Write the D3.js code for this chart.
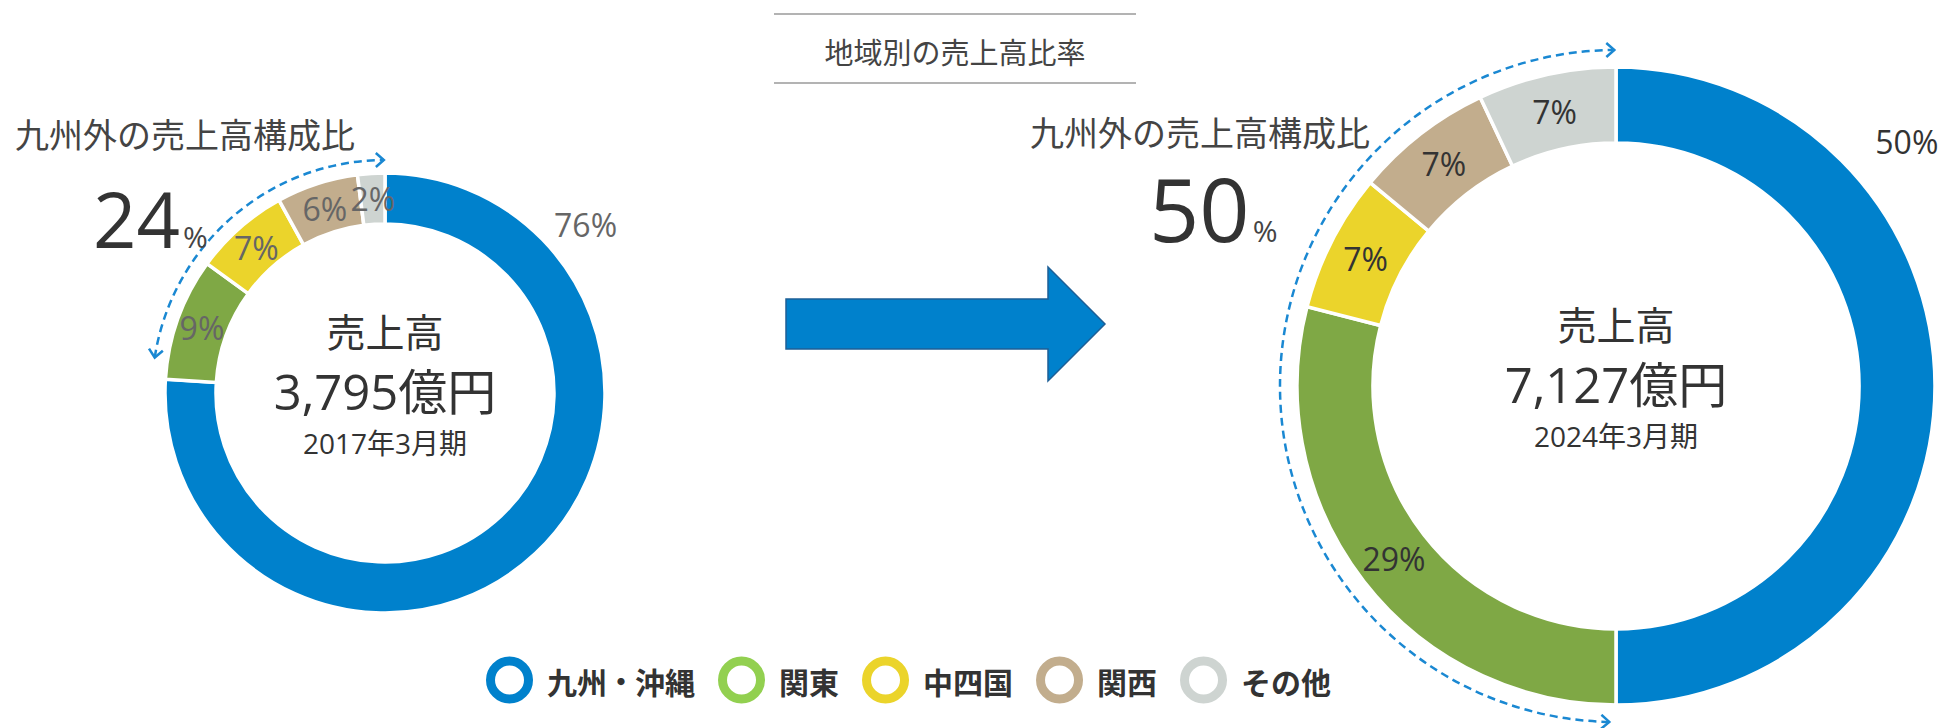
<!DOCTYPE html>
<html>
<head>
<meta charset="utf-8">
<script src="https://cdn.jsdelivr.net/npm/d3@7"></script>
<style>
  body { margin: 0; background: #fff; }
  text { font-family: "Open Sans", "Noto Sans CJK JP", sans-serif; }
</style>
</head>
<body>
<div id="chart"></div>
<script>
// data
const regions = ["九州・沖縄", "関東", "中四国", "関西", "その他"];
const share2017 = [76, 9, 7, 6, 2];
const share2024 = [50, 29, 7, 7, 7];
const periods = ["2017年3月期", "2024年3月期"];
const salesLabels = ["3,795億円", "7,127億円"];
const outsideShare = [24, 50];

const ringColors = ["#0081cc", "#7fa845", "#ebd42b", "#c2ad8d", "#ced4d1"];
const legendColors = ["#0081cc", "#92d050", "#ebd42b", "#c2ad8d", "#ced4d1"];

var width = 1953,
  height = 728;

var svg = d3
  .select("#chart")
  .append("svg")
  .attr("width", width)
  .attr("height", height);

svg
  .append("defs")
  .append("marker")
  .attr("id", "arrowhead")
  .attr("markerUnits", "userSpaceOnUse")
  .attr("markerWidth", 20)
  .attr("markerHeight", 20)
  .attr("refX", 10)
  .attr("refY", 8)
  .attr("orient", "auto-start-reverse")
  .append("path")
  .attr("d", "M2,1 L10,8 L2,15")
  .attr("fill", "none")
  .attr("stroke", "#1a88d2")
  .attr("stroke-width", 2.5);

// title with rules
svg.append("line").attr("x1", 774).attr("x2", 1136).attr("y1", 14).attr("y2", 14)
  .attr("stroke", "#9a9a9a").attr("stroke-width", 1.5);
svg.append("line").attr("x1", 774).attr("x2", 1136).attr("y1", 83).attr("y2", 83)
  .attr("stroke", "#9a9a9a").attr("stroke-width", 1.5);
svg.append("text")
  .attr("x", 955)
  .attr("y", 52)
  .attr("text-anchor", "middle")
  .attr("dominant-baseline", "central")
  .attr("fill", "#444")
  .style("font-size", "29px")
  .text("地域別の売上高比率");

// big arrow between the two rings
var ax = 786, ay = 324;
var arrowPts = [
  [ax, ay - 25], [1048, ay - 25], [1048, ay - 57], [1105, ay],
  [1048, ay + 57], [1048, ay + 25], [ax, ay + 25]
];
svg.append("path")
  .attr("d", d3.line()(arrowPts) + "Z")
  .attr("fill", "#0081cc")
  .attr("stroke", "#1d5f96")
  .attr("stroke-width", 1.5);

var charts = [
  {
    cx: 385, cy: 393, r: 220, inner: 169, values: share2017,
    sales: salesLabels[0], period: periods[0], outside: outsideShare[0],
    labelColor: "#666", dashR: 233, dashPad: 0.09,
    headX: 15, headY: 135, bigX: 97, bigY: 248, bigSize: 76
  },
  {
    cx: 1616, cy: 386, r: 319, inner: 243, values: share2024,
    sales: salesLabels[1], period: periods[1], outside: outsideShare[1],
    labelColor: "#333", dashR: 336, dashPad: 0.02,
    headX: 1030, headY: 133, bigX: 1153, bigY: 242, bigSize: 88
  }
];

var pie = d3.pie().sort(null).value((d) => d);

charts.forEach(function (c) {
  var g = svg.append("g").attr("transform", "translate(" + c.cx + "," + c.cy + ")");
  var arcs = pie(c.values);
  var arc = d3.arc().innerRadius(c.inner).outerRadius(c.r);

  g.selectAll(".slice")
    .data(arcs)
    .enter()
    .append("path")
    .attr("class", "slice")
    .attr("d", arc)
    .attr("fill", (d, i) => ringColors[i])
    .attr("stroke", "#fff")
    .attr("stroke-width", 3.5);

  // percent labels: in the ring, the big one outside at the upper right
  g.selectAll(".pct")
    .data(arcs)
    .enter()
    .append("text")
    .attr("class", "pct")
    .attr("transform", (d, i) => {
      var p;
      if (i == 0) {
        var a = (50 * Math.PI) / 180, rr = c.r * 1.19;
        p = [rr * Math.sin(a), -rr * Math.cos(a)];
      } else {
        p = arc.centroid(d);
      }
      return "translate(" + p[0] + "," + p[1] + ")";
    })
    .attr("text-anchor", "middle")
    .attr("dominant-baseline", "central")
    .attr("fill", c.labelColor)
    .style("font-size", "32px")
    .text((d) => d.data + "%");

  // dashed arc over the non-Kyushu part
  var p = d3.path();
  p.arc(0, 0, c.dashR, arcs[0].endAngle + c.dashPad - Math.PI / 2, 2 * Math.PI - 0.005 - Math.PI / 2);
  g.append("path")
    .attr("d", p.toString())
    .attr("fill", "none")
    .attr("stroke", "#1a88d2")
    .attr("stroke-width", 2.5)
    .attr("stroke-dasharray", "8,5")
    .attr("marker-start", "url(#arrowhead)")
    .attr("marker-end", "url(#arrowhead)");

  // centre texts
  g.append("text").attr("y", -62).attr("text-anchor", "middle")
    .attr("dominant-baseline", "central").attr("fill", "#333")
    .style("font-size", "39px").text("売上高");
  g.append("text").attr("y", -2).attr("text-anchor", "middle")
    .attr("dominant-baseline", "central").attr("fill", "#333")
    .style("font-size", "49px").text(c.sales);
  g.append("text").attr("y", 50).attr("text-anchor", "middle")
    .attr("dominant-baseline", "central").attr("fill", "#333")
    .style("font-size", "28px").text(c.period);

  // outside-Kyushu share
  svg.append("text")
    .attr("x", c.headX)
    .attr("y", c.headY)
    .attr("dominant-baseline", "central")
    .attr("fill", "#444")
    .style("font-size", "34px")
    .text("九州外の売上高構成比");

  var big = svg.append("text")
    .attr("x", c.bigX - 4)
    .attr("y", c.bigY)
    .attr("fill", "#333");
  big.append("tspan").style("font-size", c.bigSize + "px").text(c.outside);
  big.append("tspan").attr("dx", 3).style("font-size", "30px").attr("fill", "#444").text("%");
});

// legend
var lx = 486, ly = 680;
regions.forEach(function (name, i) {
  svg.append("circle")
    .attr("cx", lx + 23.5)
    .attr("cy", ly)
    .attr("r", 19)
    .attr("fill", "none")
    .attr("stroke", legendColors[i])
    .attr("stroke-width", 9);
  var t = svg.append("text")
    .attr("x", lx + 61)
    .attr("y", ly + 2)
    .attr("dominant-baseline", "central")
    .attr("fill", "#333")
    .style("font-size", "30px")
    .style("font-weight", "bold");
  // the middle dot is narrow in the original, so draw it a bit smaller
  name.split("・").forEach(function (part, k) {
    if (k > 0) t.append("tspan").style("font-size", "28px").text("・");
    t.append("tspan").text(part);
  });
  lx += 61 + t.node().getBBox().width + 23;
});
</script>
</body>
</html>
